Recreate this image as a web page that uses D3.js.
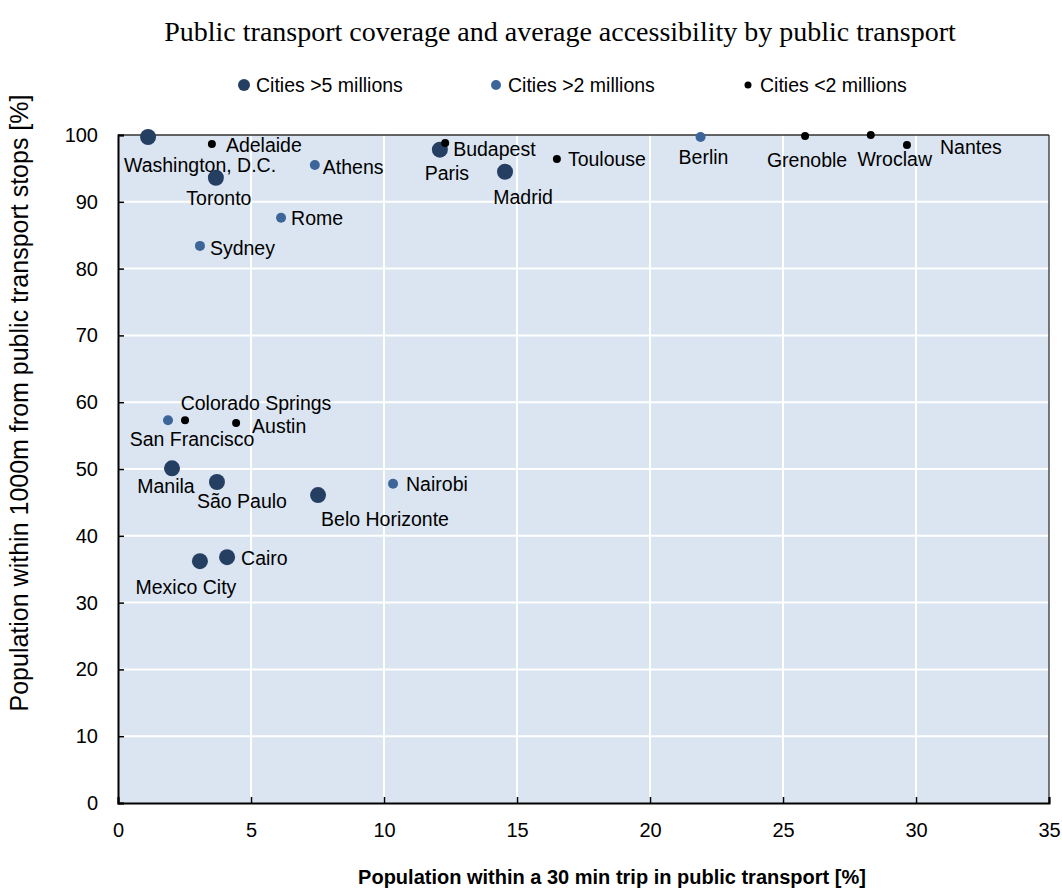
<!DOCTYPE html>
<html><head><meta charset="utf-8">
<script src="https://cdn.jsdelivr.net/npm/d3@7"></script>
<style>body{margin:0;background:#fff;} svg{display:block;}</style>
</head><body>
<svg id="chart" width="1062" height="896"></svg>
<script>
const title = "Public transport coverage and average accessibility by public transport";
const xTitle = "Population within a 30 min trip in public transport [%]";
const yTitle = "Population within 1000m from public transport stops [%]";
const groups = ["Cities >5 millions", "Cities >2 millions", "Cities <2 millions"];
const groupColors = ["#253f63", "#3c6699", "#000000"];
const cities = ["Washington, D.C.","Toronto","Paris","Madrid","Manila","São Paulo","Belo Horizonte","Cairo","Mexico City",
  "Athens","Rome","Sydney","San Francisco","Nairobi","Berlin",
  "Adelaide","Budapest","Toulouse","Grenoble","Wroclaw","Nantes","Colorado Springs","Austin"];
const xValues = [1.13,3.68,12.1,14.55,2.03,3.72,7.52,4.1,3.08,
  7.4,6.13,3.08,1.88,10.34,21.9,
  3.53,12.3,16.5,25.83,28.3,29.66,2.52,4.44];
const yValues = [99.7,93.6,97.8,94.5,50.1,48.05,46.1,36.8,36.2,
  95.5,87.6,83.4,57.3,47.8,99.7,
  98.65,98.8,96.4,99.85,100,98.5,57.3,56.9];
const groupIndex = [0,0,0,0,0,0,0,0,0, 1,1,1,1,1,1, 2,2,2,2,2,2,2,2];
const xTicks = [0,5,10,15,20,25,30,35];
const yTicks = [0,10,20,30,40,50,60,70,80,90,100];

// label layout (style): [anchor, dx, dy]
const labelLayout = [["middle",52,28],["middle",3,20],["middle",7,23],["middle",18,25],["middle",-6,18],["middle",25,19],["start",3,24],["start",14,1],["middle",-14,26],
  ["start",8,2],["start",10,0],["start",10,2],["middle",24,19],["start",13,0],["middle",3,20],
  ["start",14,1],["start",8,6],["start",11,0],["middle",2,24],["middle",24,24],["start",33,2],["middle",71,-17],["start",16,3]];
const radii = [8, 5, 4];

const svg = d3.select("#chart");
const m = {left:118, right:1049, top:135, bottom:803};
const x = d3.scaleLinear().domain([0,35]).range([m.left, m.right]);
const y = d3.scaleLinear().domain([0,100]).range([m.bottom, m.top]);
const font = "'Liberation Sans', Arial, sans-serif";

svg.append("text").attr("x", 560).attr("y", 41).attr("text-anchor","middle")
  .style("font-family","'Liberation Serif','Times New Roman',serif").style("font-size","28px").text(title);

// legend
const legX = [244, 496, 748];
const legR = [6, 5, 3.5];
groups.forEach((g,i)=>{
  svg.append("circle").attr("cx", legX[i]).attr("cy", 85).attr("r", legR[i]).attr("fill", groupColors[i]);
  svg.append("text").attr("x", legX[i]+12).attr("y", 85).attr("dominant-baseline","central")
    .style("font-family", font).style("font-size","19.5px").text(g);
});

// plot background
svg.append("rect").attr("x", m.left).attr("y", m.top).attr("width", m.right-m.left).attr("height", m.bottom-m.top).attr("fill","#dbe5f1");

// grid
svg.append("g").selectAll("line").data(xTicks.slice(1,-1)).join("line")
  .attr("x1", d=>x(d)).attr("x2", d=>x(d)).attr("y1", m.top).attr("y2", m.bottom).attr("stroke","#fff").attr("stroke-width",2);
svg.append("g").selectAll("line").data(yTicks.slice(1,-1)).join("line")
  .attr("y1", d=>y(d)).attr("y2", d=>y(d)).attr("x1", m.left).attr("x2", m.right).attr("stroke","#fff").attr("stroke-width",2);

// frame top/right
svg.append("line").attr("x1", m.left).attr("x2", m.right).attr("y1", m.top).attr("y2", m.top).attr("stroke","#333").attr("stroke-width",1.3);
svg.append("line").attr("x1", m.right).attr("x2", m.right).attr("y1", m.top).attr("y2", m.bottom).attr("stroke","#333").attr("stroke-width",1.3);

// axes
const xAxis = svg.append("g").attr("transform", `translate(0,${m.bottom})`)
  .call(d3.axisBottom(x).tickValues(xTicks).tickSize(-6).tickPadding(20));
const yAxis = svg.append("g").attr("transform", `translate(${m.left},0)`)
  .call(d3.axisLeft(y).tickValues(yTicks).tickSize(-6).tickPadding(20));
[xAxis, yAxis].forEach(a=>{
  a.select(".domain").attr("stroke","#000").attr("stroke-width",2);
  a.selectAll(".tick line").attr("stroke","#000").attr("stroke-width",1.5);
  a.selectAll("text").style("font-family", font).style("font-size","20px").attr("fill","#000");
});
xAxis.selectAll("text").attr("dy","0.71em");

svg.append("text").attr("x", 612).attr("y", 884).attr("text-anchor","middle")
  .style("font-family", font).style("font-size","20px").style("font-weight","bold").text(xTitle);
svg.append("text").attr("transform","translate(28,403) rotate(-90)").attr("text-anchor","middle")
  .style("font-family", font).style("font-size","25px").text(yTitle);

const data = cities.map((c,i)=>({name:c, x:xValues[i], y:yValues[i], g:groupIndex[i], lab:labelLayout[i]}));

svg.append("g").selectAll("text").data(data).join("text")
  .attr("x", d=>x(d.x)+d.lab[1]).attr("y", d=>y(d.y)+d.lab[2])
  .attr("text-anchor", d=>d.lab[0]).attr("dominant-baseline","central")
  .style("font-family", font).style("font-size","19.5px").attr("fill","#000").text(d=>d.name);

const ordered = data.slice().sort((a,b)=>a.g-b.g);
svg.append("g").selectAll("circle").data(ordered).join("circle")
  .attr("cx", d=>x(d.x)).attr("cy", d=>y(d.y)).attr("r", d=>radii[d.g]).attr("fill", d=>groupColors[d.g]);
</script>
</body></html>
